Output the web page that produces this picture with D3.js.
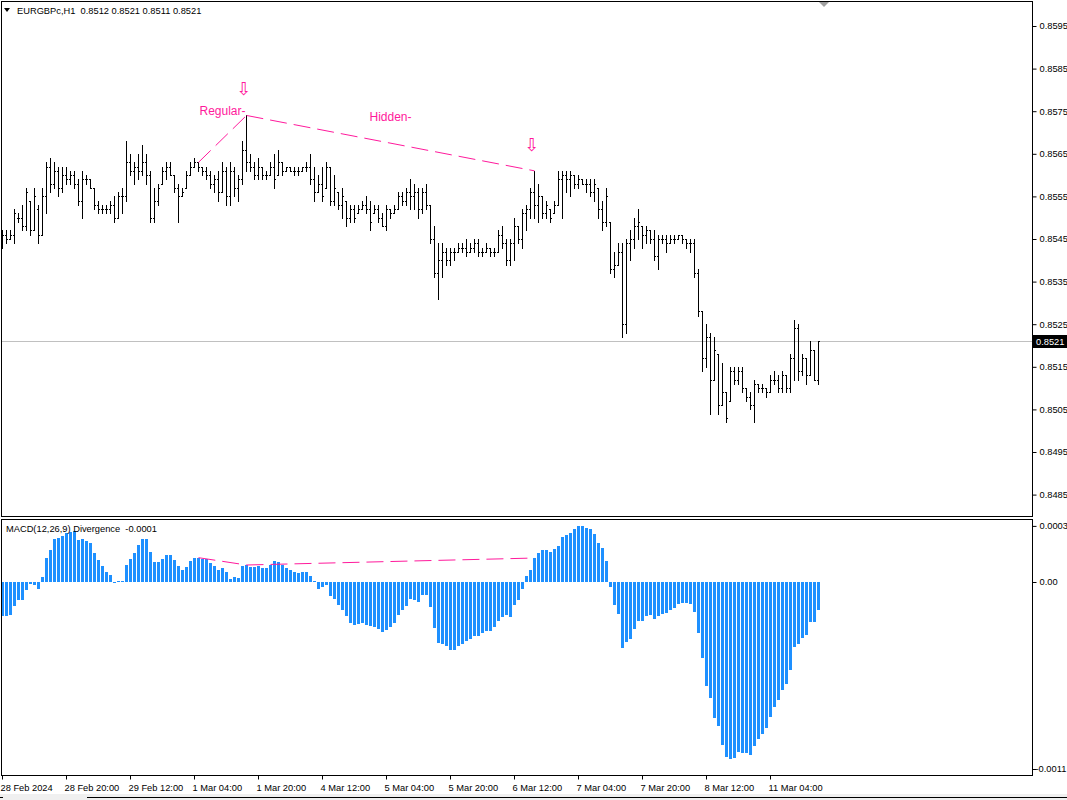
<!DOCTYPE html>
<html><head><meta charset="utf-8">
<script src="https://cdn.jsdelivr.net/npm/d3@7"></script>
<style>
body{margin:0;background:#fff}
svg{display:block}
text{font-family:"Liberation Sans",Arial,sans-serif}
</style>
</head><body>
<svg id="c" width="1067" height="800"></svg>
<script>
// ---------- DATA (EURGBPc, H1) ----------
const symbolTitle = "EURGBPc,H1\u00a0\u00a00.8512 0.8521 0.8511 0.8521";
const macdTitle = "MACD(12,26,9) Divergence\u00a0\u00a0-0.0001";
const lastPrice = 0.8521;

const open = [
0.8544,0.8546,0.8545,0.8546,0.8550,0.8550,0.8548,0.8554,0.8547,0.8552,
0.8546,0.8555,0.8562,0.8558,0.8561,0.8557,0.8560,0.8559,0.8560,0.8558,
0.8554,0.8559,0.8559,0.8557,0.8553,0.8552,0.8552,0.8552,0.8553,0.8550,
0.8555,0.8555,0.8563,0.8561,0.8562,0.8561,0.8563,0.8560,0.8550,0.8554,
0.8558,0.8561,0.8562,0.8560,0.8557,0.8555,0.8557,0.8560,0.8562,0.8563,
0.8562,0.8561,0.8560,0.8558,0.8559,0.8556,0.8561,0.8555,0.8561,0.8557,
0.8559,0.8566,0.8563,0.8562,0.8560,0.8562,0.8560,0.8560,0.8562,0.8560,
0.8563,0.8561,0.8562,0.8561,0.8561,0.8561,0.8562,0.8562,0.8559,0.8556,
0.8558,0.8557,0.8562,0.8554,0.8556,0.8553,0.8554,0.8550,0.8552,0.8551,
0.8552,0.8553,0.8552,0.8551,0.8552,0.8550,0.8548,0.8552,0.8551,0.8552,
0.8555,0.8554,0.8556,0.8555,0.8556,0.8552,0.8556,0.8553,0.8545,0.8537,
0.8540,0.8542,0.8540,0.8542,0.8542,0.8543,0.8543,0.8542,0.8543,0.8544,
0.8542,0.8542,0.8543,0.8542,0.8542,0.8546,0.8544,0.8540,0.8544,0.8548,
0.8545,0.8551,0.8552,0.8556,0.8553,0.8555,0.8551,0.8552,0.8551,0.8553,
0.8559,0.8560,0.8559,0.8560,0.8558,0.8559,0.8558,0.8558,0.8556,0.8557,
0.8552,0.8549,0.8549,0.8538,0.8539,0.8542,0.8525,0.8544,0.8545,0.8548,
0.8548,0.8546,0.8547,0.8545,0.8541,0.8545,0.8545,0.8544,0.8545,0.8545,
0.8546,0.8545,0.8544,0.8544,0.8537,0.8528,0.8517,0.8522,0.8512,0.8518,
0.8506,0.8509,0.8507,0.8514,0.8512,0.8514,0.8510,0.8508,0.8506,0.8511,
0.8510,0.8510,0.8509,0.8512,0.8512,0.8510,0.8513,0.8510,0.8517,0.8524,
0.8514,0.8517,0.8513,0.8519,0.8512];

const high = [
0.8547,0.8547,0.8547,0.8552,0.8551,0.8553,0.8557,0.8554,0.8557,0.8553,
0.8557,0.8563,0.8564,0.8563,0.8562,0.8562,0.8562,0.8561,0.8561,0.8559,
0.8561,0.8560,0.8559,0.8557,0.8554,0.8553,0.8553,0.8554,0.8555,0.8556,
0.8557,0.8568,0.8565,0.8563,0.8565,0.8567,0.8565,0.8561,0.8557,0.8558,
0.8562,0.8563,0.8563,0.8560,0.8558,0.8557,0.8561,0.8563,0.8564,0.8563,
0.8562,0.8562,0.8561,0.8560,0.8561,0.8563,0.8562,0.8563,0.8562,0.8560,
0.8568,0.8574,0.8565,0.8563,0.8564,0.8562,0.8561,0.8563,0.8565,0.8566,
0.8563,0.8562,0.8562,0.8562,0.8562,0.8562,0.8563,0.8565,0.8562,0.8560,
0.8562,0.8563,0.8562,0.8560,0.8556,0.8557,0.8554,0.8553,0.8553,0.8553,
0.8554,0.8555,0.8554,0.8553,0.8553,0.8551,0.8553,0.8552,0.8553,0.8556,
0.8556,0.8557,0.8559,0.8558,0.8557,0.8557,0.8558,0.8553,0.8548,0.8544,
0.8544,0.8543,0.8543,0.8543,0.8544,0.8544,0.8545,0.8544,0.8545,0.8545,
0.8543,0.8544,0.8543,0.8543,0.8547,0.8548,0.8545,0.8545,0.8550,0.8548,
0.8552,0.8553,0.8557,0.8561,0.8558,0.8555,0.8554,0.8552,0.8554,0.8561,
0.8561,0.8561,0.8561,0.8560,0.8560,0.8559,0.8559,0.8559,0.8559,0.8557,
0.8554,0.8557,0.8549,0.8542,0.8544,0.8544,0.8545,0.8547,0.8550,0.8552,
0.8548,0.8548,0.8547,0.8547,0.8546,0.8546,0.8546,0.8546,0.8546,0.8546,
0.8546,0.8545,0.8545,0.8545,0.8538,0.8528,0.8525,0.8523,0.8522,0.8518,
0.8516,0.8509,0.8515,0.8515,0.8515,0.8515,0.8510,0.8509,0.8512,0.8511,
0.8511,0.8510,0.8513,0.8514,0.8513,0.8514,0.8513,0.8518,0.8526,0.8525,
0.8518,0.8517,0.8521,0.8519,0.8521];

const low = [
0.8543,0.8544,0.8545,0.8544,0.8549,0.8547,0.8547,0.8546,0.8547,0.8544,
0.8546,0.8551,0.8556,0.8557,0.8555,0.8556,0.8558,0.8558,0.8557,0.8553,
0.8550,0.8558,0.8557,0.8552,0.8551,0.8551,0.8551,0.8551,0.8549,0.8550,
0.8551,0.8554,0.8560,0.8558,0.8559,0.8560,0.8558,0.8549,0.8549,0.8553,
0.8558,0.8559,0.8560,0.8556,0.8549,0.8555,0.8557,0.8560,0.8562,0.8561,
0.8560,0.8559,0.8557,0.8556,0.8554,0.8556,0.8553,0.8553,0.8555,0.8554,
0.8558,0.8561,0.8561,0.8559,0.8559,0.8559,0.8559,0.8560,0.8557,0.8560,
0.8560,0.8561,0.8561,0.8560,0.8560,0.8561,0.8561,0.8558,0.8554,0.8556,
0.8554,0.8557,0.8553,0.8553,0.8552,0.8550,0.8548,0.8549,0.8549,0.8551,
0.8552,0.8551,0.8547,0.8551,0.8549,0.8548,0.8547,0.8550,0.8551,0.8552,
0.8553,0.8553,0.8552,0.8552,0.8550,0.8551,0.8552,0.8544,0.8536,0.8531,
0.8536,0.8539,0.8539,0.8540,0.8542,0.8542,0.8541,0.8542,0.8542,0.8541,
0.8541,0.8542,0.8541,0.8541,0.8542,0.8543,0.8539,0.8539,0.8540,0.8544,
0.8543,0.8547,0.8550,0.8550,0.8549,0.8550,0.8550,0.8549,0.8551,0.8553,
0.8550,0.8556,0.8555,0.8557,0.8557,0.8558,0.8556,0.8555,0.8554,0.8550,
0.8547,0.8548,0.8537,0.8536,0.8539,0.8522,0.8523,0.8540,0.8543,0.8545,
0.8543,0.8544,0.8544,0.8540,0.8538,0.8544,0.8542,0.8544,0.8544,0.8545,
0.8544,0.8543,0.8542,0.8536,0.8527,0.8514,0.8515,0.8504,0.8512,0.8504,
0.8506,0.8502,0.8507,0.8511,0.8511,0.8509,0.8507,0.8505,0.8502,0.8509,
0.8509,0.8508,0.8509,0.8511,0.8509,0.8509,0.8509,0.8509,0.8512,0.8512,
0.8513,0.8511,0.8513,0.8512,0.8511];

const close = [
0.8546,0.8545,0.8546,0.8551,0.8550,0.8548,0.8556,0.8547,0.8555,0.8546,
0.8555,0.8562,0.8558,0.8561,0.8557,0.8560,0.8559,0.8560,0.8558,0.8554,
0.8559,0.8559,0.8557,0.8553,0.8552,0.8552,0.8552,0.8553,0.8550,0.8555,
0.8555,0.8563,0.8561,0.8562,0.8561,0.8563,0.8560,0.8550,0.8554,0.8557,
0.8561,0.8562,0.8560,0.8557,0.8555,0.8556,0.8560,0.8562,0.8563,0.8562,
0.8561,0.8560,0.8558,0.8559,0.8556,0.8561,0.8555,0.8561,0.8557,0.8559,
0.8566,0.8563,0.8562,0.8560,0.8562,0.8560,0.8560,0.8562,0.8559,0.8563,
0.8561,0.8562,0.8561,0.8561,0.8561,0.8562,0.8562,0.8559,0.8556,0.8558,
0.8555,0.8562,0.8554,0.8557,0.8553,0.8555,0.8550,0.8552,0.8550,0.8552,
0.8553,0.8552,0.8549,0.8552,0.8550,0.8548,0.8552,0.8551,0.8552,0.8555,
0.8554,0.8556,0.8555,0.8556,0.8552,0.8556,0.8553,0.8545,0.8537,0.8540,
0.8542,0.8540,0.8542,0.8542,0.8543,0.8543,0.8542,0.8543,0.8544,0.8542,
0.8542,0.8543,0.8542,0.8542,0.8546,0.8544,0.8540,0.8544,0.8548,0.8545,
0.8551,0.8552,0.8556,0.8553,0.8555,0.8551,0.8553,0.8550,0.8553,0.8559,
0.8560,0.8559,0.8560,0.8558,0.8559,0.8558,0.8558,0.8556,0.8558,0.8552,
0.8549,0.8555,0.8538,0.8539,0.8542,0.8525,0.8544,0.8545,0.8548,0.8549,
0.8546,0.8547,0.8545,0.8541,0.8545,0.8545,0.8544,0.8545,0.8545,0.8546,
0.8545,0.8544,0.8544,0.8537,0.8528,0.8517,0.8522,0.8512,0.8519,0.8506,
0.8509,0.8503,0.8514,0.8512,0.8514,0.8510,0.8508,0.8506,0.8511,0.8510,
0.8510,0.8509,0.8512,0.8512,0.8510,0.8513,0.8510,0.8517,0.8524,0.8514,
0.8517,0.8513,0.8519,0.8512,0.8521];

// MACD histogram (main line of MACD 12,26,9)
const macdHist = [
-0.000198,-0.000198,-0.000192,-0.000139,-0.000106,-0.000106,-0.000045,-0.000012,-0.000016,-0.000041,
0.000031,0.000143,0.000190,0.000251,0.000261,0.000272,0.000288,0.000296,0.000302,0.000249,
0.000251,0.000243,0.000228,0.000171,0.000129,0.000094,0.000059,0.000039,-0.000004,0.000003,
0.000006,0.000100,0.000134,0.000171,0.000218,0.000251,0.000251,0.000176,0.000118,0.000116,
0.000134,0.000159,0.000157,0.000128,0.000092,0.000072,0.000088,0.000122,0.000143,0.000143,
0.000137,0.000135,0.000114,0.000092,0.000072,0.000081,0.000059,0.000018,0.000029,0.000025,
0.000096,0.000100,0.000090,0.000090,0.000094,0.000084,0.000084,0.000098,0.000124,0.000116,
0.000102,0.000081,0.000071,0.000061,0.000055,0.000059,0.000059,0.000035,0.000006,-0.000039,
-0.000028,-0.000016,-0.000081,-0.000100,-0.000134,-0.000163,-0.000198,-0.000239,-0.000251,-0.000245,
-0.000239,-0.000251,-0.000257,-0.000263,-0.000275,-0.000292,-0.000281,-0.000263,-0.000239,-0.000192,
-0.000163,-0.000139,-0.000098,-0.000104,-0.000116,-0.000075,-0.000075,-0.000145,-0.000269,-0.000357,
-0.000363,-0.000375,-0.000398,-0.000398,-0.000375,-0.000363,-0.000345,-0.000334,-0.000316,-0.000316,
-0.000298,-0.000286,-0.000286,-0.000263,-0.000228,-0.000204,-0.000192,-0.000204,-0.000134,-0.000104,
-0.000039,0.000035,0.000071,0.000141,0.000171,0.000188,0.000188,0.000176,0.000194,0.000212,
0.000265,0.000276,0.000288,0.000312,0.000329,0.000329,0.000318,0.000312,0.000282,0.000229,
0.000200,0.000124,-0.000028,-0.000134,-0.000186,-0.000386,-0.000351,-0.000334,-0.000275,-0.000228,
-0.000228,-0.000198,-0.000192,-0.000216,-0.000198,-0.000186,-0.000181,-0.000163,-0.000151,-0.000128,
-0.000122,-0.000122,-0.000128,-0.000175,-0.000298,-0.000445,-0.000610,-0.000681,-0.000798,-0.000845,
-0.000957,-0.001028,-0.001039,-0.001034,-0.000998,-0.001004,-0.001004,-0.001016,-0.000963,-0.000922,
-0.000892,-0.000857,-0.000792,-0.000734,-0.000692,-0.000634,-0.000598,-0.000516,-0.000381,-0.000363,
-0.000328,-0.000310,-0.000234,-0.000234,-0.000163];

// time axis labels (bar index -> label)
const timeTickIdx = [0,16,32,48,64,80,96,112,128,144,160,176,192];
const timeTickLabels = ["28 Feb 2024","28 Feb 20:00","29 Feb 12:00","1 Mar 04:00","1 Mar 20:00","4 Mar 12:00",
  "5 Mar 04:00","5 Mar 20:00","6 Mar 12:00","7 Mar 04:00","7 Mar 20:00","8 Mar 12:00","11 Mar 04:00"];
const priceTicks = [0.8485,0.8495,0.8505,0.8515,0.8525,0.8535,0.8545,0.8555,0.8565,0.8575,0.8585,0.8595];
const macdTicks = [0.00033, 0, -0.0011];
const macdTickLabels = ["0.0003","0.00","-0.0011"];

// divergence objects: from bar i0 to bar i1 (lines on highs and on MACD)
const divNames = ["Regular-","Hidden-"];
const divStart = [49, 61];
const divEnd = [61, 133];
const divLabelPrice = [0.85750, 0.85736];
const arrowBars = [61, 133];

// ---------- DRAW ----------
const svg = d3.select("#c");
const pink = "#ff1a9c", blue = "#1e90ff";
const FONT = "9.3px";
const left = 1.5, right = 1032.5, mainTop = 1.5, mainBot = 516.5, macdTop = 519.5, macdBot = 775.5;

const n = high.length;
const x = d3.scaleLinear().domain([0, n - 1]).range([2.5, 2.5 + 4 * (n - 1)]);
const y = d3.scaleLinear().domain([0.8485, 0.8595]).range([494.6, 26]);
const ym = d3.scaleLinear().domain([-0.0011, 0.00033]).range([769, 525.9]);
const R = v => Math.round(v);

svg.append("rect").attr("width",1067).attr("height",800).attr("fill","#fff");

// bid line
svg.append("line").attr("x1",left).attr("x2",right)
  .attr("y1",R(y(lastPrice))+0.5).attr("y2",R(y(lastPrice))+0.5)
  .attr("stroke","#c0c0c0").attr("stroke-width",1);

// OHLC bars
const bars = svg.append("g").attr("fill","#000");
d3.range(n).forEach(i => {
  const cx = x(i);
  const yh = R(y(high[i])), yl = R(y(low[i]));
  bars.append("rect").attr("x",cx-0.5).attr("y",yh).attr("width",1).attr("height",yl-yh+1);
  bars.append("rect").attr("x",cx-1.5).attr("y",R(y(open[i]))).attr("width",1).attr("height",1);
  bars.append("rect").attr("x",cx+0.5).attr("y",R(y(close[i]))).attr("width",1).attr("height",1);
});

// MACD histogram
const z = R(ym(0));
svg.append("g").attr("fill",blue).selectAll("rect").data(macdHist).join("rect")
  .attr("x",(d,i)=>x(i)-1.5).attr("width",3)
  .attr("y",d=> d>=0 ? R(ym(d)) : z)
  .attr("height",d=> Math.max(1, Math.abs(R(ym(d))-z)));

// divergence lines
divNames.forEach((name,k)=>{
  const a = divStart[k], b = divEnd[k];
  svg.append("line").attr("x1",x(a)).attr("y1",y(high[a])).attr("x2",x(b)).attr("y2",y(high[b]))
    .attr("stroke",pink).attr("stroke-width",1).attr("stroke-dasharray","17,7");
  svg.append("line").attr("x1",x(a)).attr("y1",ym(macdHist[a])).attr("x2",x(b)).attr("y2",ym(macdHist[b]))
    .attr("stroke",pink).attr("stroke-width",1).attr("stroke-dasharray","17,7");
  svg.append("text").attr("x",(x(a)+x(b))/2).attr("y",y(divLabelPrice[k])).attr("dy","0.35em")
    .attr("text-anchor","middle").attr("fill",pink).attr("font-size","12px").text(name);
});
arrowBars.forEach(i=>{
  svg.append("text").attr("x",x(i)-2.5).attr("y",y(high[i])-27).attr("dy","0.38em")
    .attr("text-anchor","middle").attr("fill",pink).style("font-family","DejaVu Sans")
    .attr("font-size","18px").text("\u21E9");
});

// frames
svg.append("rect").attr("x",left).attr("y",mainTop).attr("width",right-left).attr("height",mainBot-mainTop)
  .attr("fill","none").attr("stroke","#000");
svg.append("rect").attr("x",left).attr("y",macdTop).attr("width",right-left).attr("height",macdBot-macdTop)
  .attr("fill","none").attr("stroke","#000");

// price axis
const pa = svg.append("g").attr("transform",`translate(${right},0)`)
  .call(d3.axisRight(y).tickValues(priceTicks).tickFormat(d3.format(".4f")).tickSize(4).tickPadding(3).offset(0.5));
pa.select(".domain").remove();
pa.selectAll("text").attr("font-size",FONT).attr("fill","#000").style("font-family","Liberation Sans, Arial, sans-serif");
pa.selectAll("line").attr("stroke","#000");

// bid label
const by = R(y(lastPrice));
svg.append("rect").attr("x",1033).attr("y",by-6).attr("width",34).attr("height",13).attr("fill","#000");
svg.append("text").attr("x",1036).attr("y",by+0.5).attr("dy","0.35em").attr("fill","#fff")
  .attr("font-size",FONT).text(d3.format(".4f")(lastPrice));

// MACD axis
const ma = svg.append("g").attr("transform",`translate(${right},0)`)
  .call(d3.axisRight(ym).tickValues(macdTicks).tickFormat((d,i)=>macdTickLabels[i]).tickSize(4).tickPadding(3).offset(0.5));
ma.select(".domain").remove();
ma.selectAll("text").attr("font-size",FONT).attr("fill","#000").style("font-family","Liberation Sans, Arial, sans-serif")
  .attr("dx",(d,i)=> macdTickLabels[i].startsWith("-") ? -4 : 0);
ma.selectAll("line").attr("stroke","#000");

// time axis
const ta = svg.append("g").attr("transform",`translate(0,${macdBot})`)
  .call(d3.axisBottom(x).tickValues(timeTickIdx).tickFormat((d,i)=>timeTickLabels[i]).tickSize(4).tickPadding(5).offset(0));
ta.select(".domain").remove();
ta.selectAll("text").attr("font-size",FONT).attr("fill","#000").attr("text-anchor","start").attr("dx","-2")
  .style("font-family","Liberation Sans, Arial, sans-serif");
ta.selectAll("line").attr("stroke","#000");

// titles
svg.append("path").attr("d","M4,8 L10,8 L7,12 Z").attr("fill","#000");
svg.append("text").attr("x",17).attr("y",14).attr("font-size",FONT).attr("fill","#000").text(symbolTitle);
svg.append("text").attr("x",6).attr("y",532).attr("font-size",FONT).attr("fill","#000").text(macdTitle);

// chart-shift marker
svg.append("path").attr("d","M819,2 L829,2 L824,7 Z").attr("fill","#a0a0a0");

// bottom tab strip
svg.append("rect").attr("x",0).attr("y",794).attr("width",1067).attr("height",6).attr("fill","#f0f0f0");
svg.append("line").attr("x1",87).attr("x2",1067).attr("y1",797.5).attr("y2",797.5).attr("stroke","#000");
svg.append("line").attr("x1",0).attr("x2",3).attr("y1",797.5).attr("y2",797.5).attr("stroke","#000");
</script>
</body></html>
